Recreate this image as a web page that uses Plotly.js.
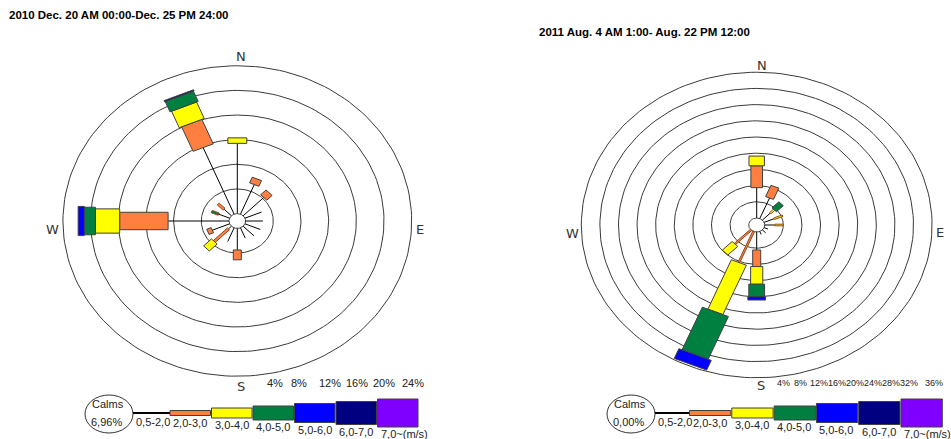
<!DOCTYPE html>
<html><head><meta charset="utf-8">
<script src="https://cdn.plot.ly/plotly-3.0.1.min.js"></script>
<style>html,body{margin:0;padding:0;background:#fff;}#chart{width:951px;height:439px;}</style>
</head><body><div id="chart"></div>
<script>
// ---------------- DATA ----------------
const directions = ['N','NNE','NE','ENE','E','ESE','SE','SSE','S','SSW','SW','WSW','W','WNW','NW','NNW'];
const speedClasses = ['0,5-2,0','2,0-3,0','3,0-4,0','4,0-5,0','5,0-6,0','6,0-7,0','7,0~(m/s)'];

// Rose 1: 2010 Dec. 20 - Dec. 25 (frequency %, per direction)
const titleDec = '2010 Dec. 20 AM 00:00-Dec. 25 PM 24:00';
const calmsDec = 6.96;
const ringTicksDec = [4, 8, 12, 16, 20, 24];
const dec_0520 = [11.4, 5.2, 4.2, 2.6, 2.5, 2.4, 2.2, 1.8, 3.5, 2.4, 0.6, 2.7, 8.8, 1.7, 1.5, 11.7];
const dec_2030 = [0, 1.0, 1.1, 0, 0, 0, 0, 0, 1.6, 0, 2.9, 0.7, 7.0, 0, 1.2, 4.3];
const dec_3040 = [0.9, 0, 0, 0, 0, 0, 0, 0, 0, 0, 1.6, 0, 3.5, 0, 0, 2.9];
const dec_4050 = [0, 0, 0, 0, 0, 0, 0, 0, 0, 0, 0, 0, 1.6, 1.1, 0, 1.8];
const dec_5060 = [0, 0, 0, 0, 0, 0, 0, 0, 0, 0, 0, 0, 0.9, 0, 0, 0];
const dec_6070 = [0, 0, 0, 0, 0, 0, 0, 0, 0, 0, 0, 0, 0, 0, 0, 0.2];
const dec_70up = [0, 0, 0, 0, 0, 0, 0, 0, 0, 0, 0, 0, 0, 0, 0, 0];

// Rose 2: 2011 Aug. 4 - Aug. 22
const titleAug = '2011 Aug. 4 AM 1:00- Aug. 22 PM 12:00';
const calmsAug = 0.00;
const ringTicksAug = [4, 8, 12, 16, 20, 24, 28, 32, 36];
const aug_0520 = [7.5, 5.5, 2.4, 2.3, 2.15, 0.9, 1.0, 0.8, 4.45, 0, 0, 0, 0, 0, 0, 0];
const aug_2030 = [5.4, 3.0, 0, 0, 0, 0, 0, 0, 4.1, 8.3, 4.9, 0, 0, 0, 0, 0];
const aug_3040 = [2.4, 0, 1.2, 2.0, 1.85, 0, 0, 0, 4.35, 13.2, 3.0, 0, 0, 0, 0, 0];
const aug_4050 = [0, 0, 2.1, 0, 0, 0, 0, 0, 3.1, 11.4, 0, 0, 0, 0, 0, 0];
const aug_5060 = [0, 0, 0, 0, 0, 0, 0, 0, 0.8, 2.6, 0, 0, 0, 0, 0, 0];
const aug_6070 = [0, 0, 0, 0, 0, 0, 0, 0, 0, 0, 0, 0, 0, 0, 0, 0];
const aug_70up = [0, 0, 0, 0, 0, 0, 0, 0, 0, 0, 0, 0, 0, 0, 0, 0];

// ---------------- STYLE ----------------
const classColors = ['#000000', '#FF7F40', '#FFFF00', '#008040', '#0000FF', '#000080', '#8000FF'];
const outline = '#404040';
const W = 951, H = 439;
const PX = x => x / W;
const PY = y => 1 - y / H;
// thin (narrow) segments as drawn in the source: [direction, classIndex]
const thinDec = [['SW', 1], ['NW', 1], ['WNW', 3]];
const thinAug = [['SSW', 1], ['SW', 1], ['NE', 2], ['ENE', 2], ['E', 2]];

const traces = [];
function circlePts(r) {
  const xs = [], ys = [];
  for (let a = 0; a <= 360; a += 2) {
    const t = a * Math.PI / 180;
    xs.push(r * Math.sin(t)); ys.push(r * Math.cos(t));
  }
  return [xs, ys];
}
function addRose(xa, ya, classData, c, ticks, thin) {
  const rx = [], ry = [];
  ticks.forEach(t => {
    const [xs, ys] = circlePts(c + t);
    rx.push(...xs, null); ry.push(...ys, null);
  });
  traces.push({type: 'scatter', mode: 'lines', x: rx, y: ry, xaxis: xa, yaxis: ya,
    line: {color: '#3a3a3a', width: 1}, hoverinfo: 'skip'});
  const [cx, cy] = circlePts(c);
  traces.push({type: 'scatter', mode: 'lines', x: cx, y: cy, xaxis: xa, yaxis: ya, fill: 'toself',
    fillcolor: '#ffffff', line: {color: '#4a4a4a', width: 1}, hoverinfo: 'skip'});
  directions.forEach((d, i) => {
    const th = i * Math.PI / 8;
    const ux = Math.sin(th), uy = Math.cos(th), qx = Math.cos(th), qy = -Math.sin(th);
    let r0 = c;
    classData.forEach((arr, k) => {
      const v = arr[i];
      if (!v) return;
      const r1 = r0 + v;
      if (k === 0) {
        traces.push({type: 'scatter', mode: 'lines', x: [r0 * ux, r1 * ux], y: [r0 * uy, r1 * uy],
          xaxis: xa, yaxis: ya, line: {color: '#000', width: 1}, hoverinfo: 'skip'});
      } else {
        const isThin = thin.some(e => e[0] === d && e[1] === k);
        const hw = isThin ? 0.2 : 0.105 * (r0 + r1) / 2;
        const xs = [r0 * ux + hw * qx, r1 * ux + hw * qx, r1 * ux - hw * qx, r0 * ux - hw * qx, r0 * ux + hw * qx];
        const ys = [r0 * uy + hw * qy, r1 * uy + hw * qy, r1 * uy - hw * qy, r0 * uy - hw * qy, r0 * uy + hw * qy];
        traces.push({type: 'scatter', mode: 'lines', x: xs, y: ys, xaxis: xa, yaxis: ya, fill: 'toself',
          fillcolor: classColors[k], line: {color: isThin ? '#8a4a20' : outline, width: 1}, hoverinfo: 'skip'});
      }
      r0 = r1;
    });
  });
}

const decC = 1.2, augC = 1.72;
addRose('x', 'y', [dec_0520, dec_2030, dec_3040, dec_4050, dec_5060, dec_6070, dec_70up], decC, ringTicksDec, thinDec);
addRose('x2', 'y2', [aug_0520, aug_2030, aug_3040, aug_4050, aug_5060, aug_6070, aug_70up], augC, ringTicksAug, thinAug);

const ann = [];
const shapes = [];
const sans = 'Liberation Sans, Arial, sans-serif';
const txtFont = {family: sans, size: 11, color: '#222'};
function label(text, x, y, xanchor, yanchor, font) {
  ann.push({text: text, x: PX(x), y: PY(y), xref: 'paper', yref: 'paper', xanchor: xanchor || 'center',
    yanchor: yanchor || 'middle', showarrow: false, font: font || txtFont});
}
const titleFont = {family: sans, size: 11.5, color: '#000'};
label('<b>' + titleDec + '</b>', 7, 15, 'left', 'middle', titleFont);
label('<b>' + titleAug + '</b>', 537, 32, 'left', 'middle', titleFont);

const compFont = {family: 'DejaVu Sans, sans-serif', size: 13, color: '#333'};
[['N', 241, 57], ['S', 241, 386], ['W', 52, 229], ['E', 420, 229]].forEach(a => label(a[0], a[1], a[2], 'center', 'middle', compFont));
[['N', 762, 66], ['S', 761, 385], ['W', 572, 233], ['E', 940, 232]].forEach(a => label(a[0], a[1], a[2], 'center', 'middle', compFont));

const pctXDec = [275, 299, 330, 357, 384, 413];
const pctXAug = [783, 800, 819, 837, 855, 873, 891, 909, 934];
ringTicksDec.forEach((t, i) => label(t + '%', pctXDec[i], 383, 'center', 'middle', {family: sans, size: 11, color: '#222'}));
ringTicksAug.forEach((t, i) => label(t + '%', pctXAug[i], 383, 'center', 'middle', {family: sans, size: 9, color: '#222'}));

// Legends
const barH = [5, 10, 14, 19, 23, 28];
function legend(calmX, lineX0, lineX1, barW, calms) {
  const cy = 413;
  shapes.push({type: 'circle', xref: 'paper', yref: 'paper', x0: PX(calmX - 24), x1: PX(calmX + 24),
    y0: PY(433), y1: PY(395), line: {color: '#333', width: 1}, fillcolor: 'rgba(0,0,0,0)'});
  label('Calms', calmX - 1, 404, 'center', 'middle', txtFont);
  label(calms.toFixed(2).replace('.', ',') + '%', calmX - 3, 422, 'center', 'middle', txtFont);
  shapes.push({type: 'line', xref: 'paper', yref: 'paper', x0: PX(lineX0), x1: PX(lineX1), y0: PY(cy), y1: PY(cy),
    line: {color: '#000', width: 2}});
  label(speedClasses[0], lineX0 + 1, cy + 1, 'left', 'top', txtFont);
  for (let k = 1; k < 7; k++) {
    const x0 = lineX1 + (k - 1) * barW, x1 = x0 + barW - 1, h = barH[k - 1];
    shapes.push({type: 'rect', xref: 'paper', yref: 'paper', x0: PX(x0), x1: PX(x1), y0: PY(cy + h / 2), y1: PY(cy - h / 2),
      fillcolor: classColors[k], line: {color: outline, width: 1}});
    label(speedClasses[k], x0 + 1, cy + h / 2 - 1, 'left', 'top', txtFont);
  }
}
legend(109, 133, 170, 41.5, calmsDec);
legend(631, 655, 689.5, 42.3, calmsAug);

const hidden = {visible: false, fixedrange: true};
const layout = {
  width: W, height: H, margin: {l: 0, r: 0, t: 0, b: 0}, showlegend: false,
  paper_bgcolor: '#fff', plot_bgcolor: 'rgba(0,0,0,0)',
  xaxis: Object.assign({domain: [PX(237.3 - 6.92 * 30), PX(237.3 + 6.92 * 30)], range: [-30, 30], anchor: 'y'}, hidden),
  yaxis: Object.assign({domain: [(218 - 6.16 * 30) / H, (218 + 6.16 * 30) / H], range: [-30, 30], anchor: 'x'}, hidden),
  xaxis2: Object.assign({domain: [PX(756.7 - 4.65 * 40), PX(756.7 + 4.65 * 40)], range: [-40, 40], anchor: 'y2'}, hidden),
  yaxis2: Object.assign({domain: [(214 - 4.05 * 40) / H, (214 + 4.05 * 40) / H], range: [-40, 40], anchor: 'x2'}, hidden),
  annotations: ann, shapes: shapes
};
Plotly.newPlot('chart', traces, layout, {staticPlot: true, displayModeBar: false});
</script></body></html>
